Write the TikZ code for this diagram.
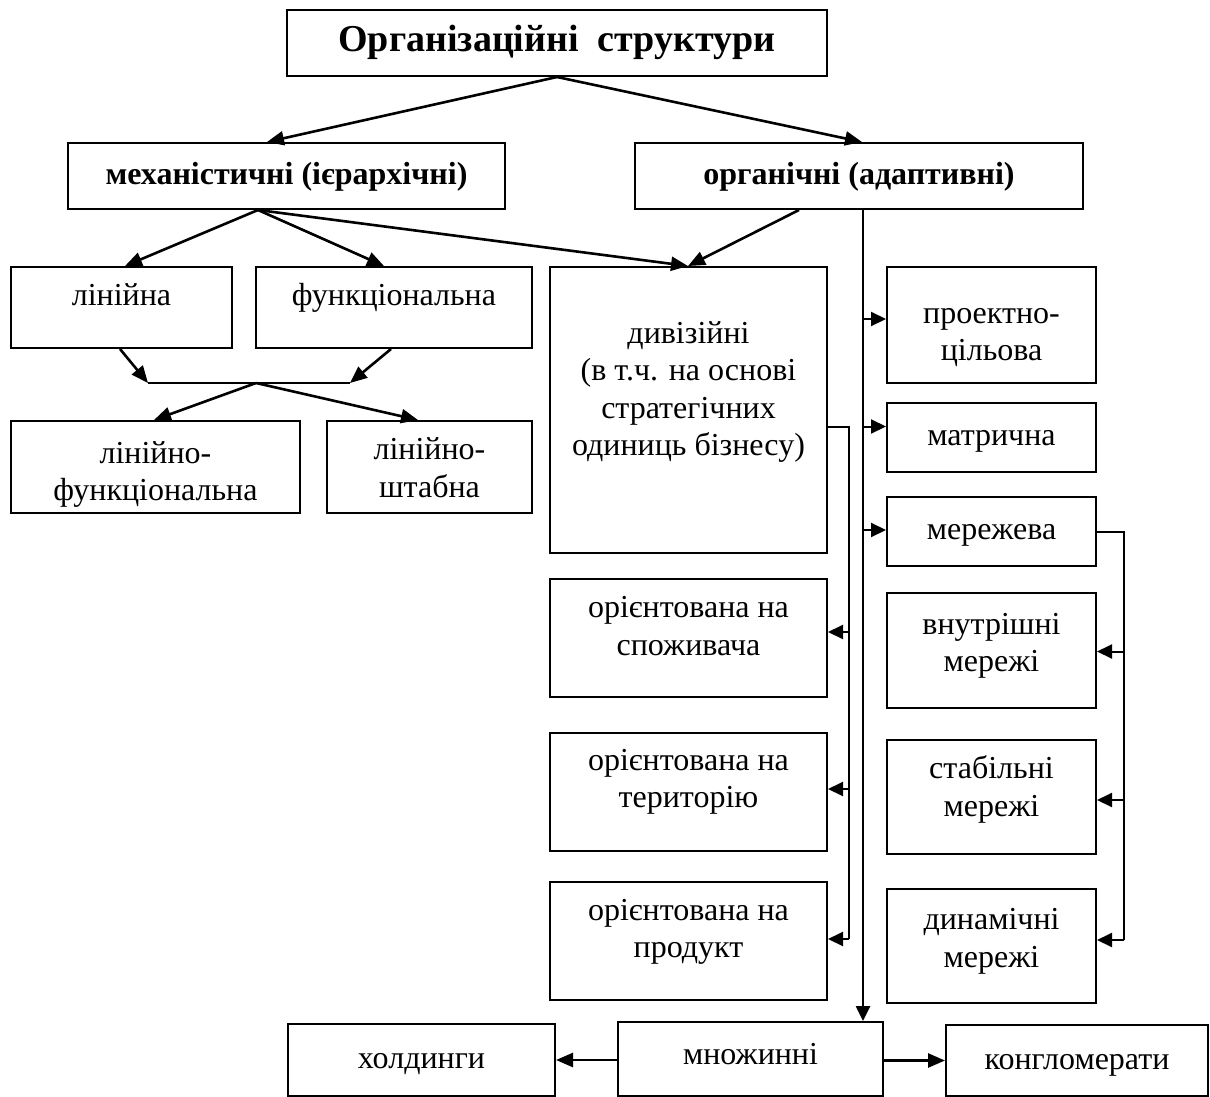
\documentclass[tikz,border=0pt]{standalone}
\usepackage{fontspec}
\setmainfont{Liberation Serif}
\usetikzlibrary{calc,arrows.meta}
\newcommand\lift[2]{\raisebox{#1}[\height][\depth]{\begin{tabular}{@{}c@{}}#2\end{tabular}}}
\tikzset{
  txt/.style={font=\fontsize{32}{37.5}\selectfont},
  box/.style={draw, line width=2pt, inner sep=0pt, align=center, txt},
  bold/.style={font=\bfseries\fontsize{32}{36}\selectfont},
  bigarr/.style={line width=2.6pt, -{Triangle[length=17pt,width=14pt]}},
  thinarr/.style={line width=2pt, -{Triangle[length=15pt,width=14pt]}},
  thinline/.style={line width=2pt},
}
\begin{document}
\begin{tikzpicture}[x=1pt,y=-1pt]
\useasboundingbox (0,0) rectangle (1210,1097);
% boxes
\node[box, minimum width=540, minimum height=66, font=\bfseries\fontsize{38}{43}\selectfont] (top) at (557,43) {\lift{0pt}{Організаційні\ \ структури}};
\node[box, bold, minimum width=437, minimum height=66] (mech) at (286.5,176) {\lift{-1pt}{механістичні (ієрархічні)}};
\node[box, bold, minimum width=448, minimum height=66] (org) at (859,176) {\lift{-1pt}{органічні (адаптивні)}};
\node[box, minimum width=221, minimum height=81] (lin) at (121.5,307.5) {\lift{9.5pt}{лінійна}};
\node[box, minimum width=276, minimum height=81] (func) at (394,307.5) {\lift{9.5pt}{функціональна}};
\node[box, minimum width=277, minimum height=286] (div) at (688.5,410) {\lift{18pt}{дивізійні\\(в т.ч. на основі\\стратегічних\\одиниць бізнесу)}};
\node[box, minimum width=209, minimum height=116] (proj) at (991.5,325) {\lift{-9.5pt}{проектно-\\цільова}};
\node[box, minimum width=209, minimum height=69] (matr) at (991.5,437.5) {\lift{0pt}{матрична}};
\node[box, minimum width=209, minimum height=69] (mer) at (991.5,531.5) {\lift{0pt}{мережева}};
\node[box, minimum width=209, minimum height=115] (vnut) at (991.5,650.5) {\lift{5pt}{внутрішні\\мережі}};
\node[box, minimum width=209, minimum height=114] (stab) at (991.5,797) {\lift{7pt}{стабільні\\мережі}};
\node[box, minimum width=209, minimum height=114] (dyn) at (991.5,946) {\lift{5pt}{динамічні\\мережі}};
\node[box, minimum width=277, minimum height=118] (spoz) at (688.5,638) {\lift{9pt}{орієнтована на\\споживача}};
\node[box, minimum width=277, minimum height=118] (ter) at (688.5,792) {\lift{10.5pt}{орієнтована на\\територію}};
\node[box, minimum width=277, minimum height=118] (prod) at (688.5,941) {\lift{9.5pt}{орієнтована на\\продукт}};
\node[box, minimum width=289, minimum height=92] (lf) at (155.5,467) {\lift{-7.5pt}{лінійно-\\функціональна}};
\node[box, minimum width=205, minimum height=92] (ls) at (429.5,467) {\lift{-4pt}{лінійно-\\штабна}};
\node[box, minimum width=267, minimum height=72] (hold) at (421.5,1060) {\lift{-1pt}{холдинги}};
\node[box, minimum width=265, minimum height=74] (mnoz) at (750.5,1059) {\lift{2pt}{множинні}};
\node[box, minimum width=262, minimum height=71] (kong) at (1077,1060.5) {\lift{-1pt}{конгломерати}};
% top level
\draw[bigarr] (top.south) -- ($(mech.north)+(-19.5,0)$);
\draw[bigarr] (top.south) -- ($(org.north)+(3,0)$);
\coordinate (ms) at ($(mech.south)+(-28.5,0)$);
\draw[bigarr] (ms) -- ($(lin.north)+(3.5,0)$);
\draw[bigarr] (ms) -- ($(func.north)+(-10,0)$);
\draw[bigarr] (ms) -- ($(div.north)+(-0.5,0)$);
\draw[bigarr] ($(org.south)+(-60,0)$) -- ($(div.north)+(-0.5,0)$);
% merge of linear / functional
\coordinate (jl) at ($(lin.south)+(26.5,34)$);
\coordinate (jr) at ($(func.south)+(-44,34)$);
\coordinate (jm) at ($(jl)!0.535!(jr)$);
\draw[bigarr] ($(lin.south)+(-1.5,0)$) -- (jl);
\draw[bigarr] ($(func.south)+(-3,0)$) -- (jr);
\draw[thinline] (jl) -- (jr);
\draw[bigarr] (jm) -- ($(lf.north)+(-1.5,0)$);
\draw[bigarr] (jm) -- ($(ls.north)+(-11.5,0)$);
% vertical organic line
\coordinate (vt) at ($(org.south)+(4,0)$);
\draw[thinarr, line width=2.6pt] (vt) -- (vt |- mnoz.north);
\draw[thinarr] (vt |- {$(proj.west)+(0,-6)$}) -- ($(proj.west)+(0,-6)$);
\draw[thinarr] (vt |- {$(matr.west)+(0,-11)$}) -- ($(matr.west)+(0,-11)$);
\draw[thinarr] (vt |- {$(mer.west)+(0,-1.5)$}) -- ($(mer.west)+(0,-1.5)$);
% divisional sub-branches
\coordinate (dr) at ($(div.east)+(21,16.5)$);
\draw[thinline] ($(div.east)+(0,16.5)$) -- (dr) -- (dr |- {$(prod.east)+(0,-2)$});
\draw[thinarr] (dr |- {$(spoz.east)+(0,-6)$}) -- ($(spoz.east)+(0,-6)$);
\draw[thinarr] (dr |- {$(ter.east)+(0,-3)$}) -- ($(ter.east)+(0,-3)$);
\draw[thinarr] (dr |- {$(prod.east)+(0,-2)$}) -- ($(prod.east)+(0,-2)$);
% network sub-branches
\coordinate (nr) at ($(mer.east)+(27,0)$);
\draw[thinline] (mer.east) -- (nr) -- (nr |- {$(dyn.east)+(0,-6)$});
\draw[thinarr] (nr |- {$(vnut.east)+(0,1)$}) -- ($(vnut.east)+(0,1)$);
\draw[thinarr] (nr |- {$(stab.east)+(0,3)$}) -- ($(stab.east)+(0,3)$);
\draw[thinarr] (nr |- {$(dyn.east)+(0,-6)$}) -- ($(dyn.east)+(0,-6)$);
% bottom
\draw[bigarr] (mnoz.west |- hold.east) -- (hold.east);
\draw[bigarr] (mnoz.east |- kong.west) -- (kong.west);
\end{tikzpicture}
\end{document}
